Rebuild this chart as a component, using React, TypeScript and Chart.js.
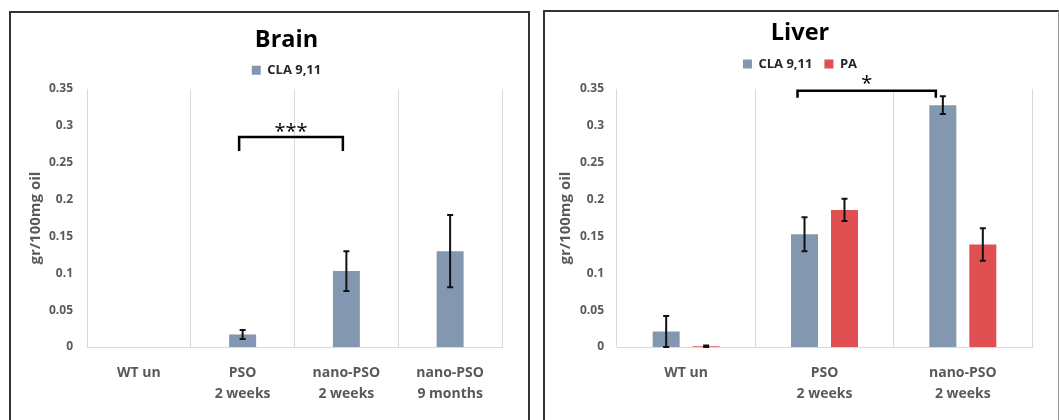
import React, { useEffect, useRef } from "react";
import { Chart, registerables } from "chart.js";

Chart.register(...registerables);

// ---------- data ----------
const brainCategories = [["WT un"], ["PSO", "2 weeks"], ["nano-PSO", "2 weeks"], ["nano-PSO", "9 months"]];
const brainCla = [0, 0.017, 0.103, 0.13];
const brainClaErr = [0, 0.006, 0.027, 0.049];

const liverCategories = [["WT un"], ["PSO", "2 weeks"], ["nano-PSO", "2 weeks"]];
const liverCla = [0.021, 0.153, 0.328];
const liverClaErr = [0.021, 0.023, 0.012];
const liverPa = [0.001, 0.186, 0.139];
const liverPaErr = [0.001, 0.015, 0.022];

const yTickValues = [0, 0.05, 0.1, 0.15, 0.2, 0.25, 0.3, 0.35];
const yTickLabels = ["0", "0.05", "0.1", "0.15", "0.2", "0.25", "0.3", "0.35"];

const seriesNames = ["CLA 9,11", "PA"];
const yTitle = "gr/100mg oil";

// ---------- styles ----------
const FONT = "'Open Sans', 'DejaVu Sans', sans-serif";
const BLUE = "#8497B0";
const RED = "#E04F52";
const GRID = "#d9d9d9";
const TICK = "#595959";

Chart.defaults.font.family = FONT;

function makeErrorBars(errs: number[][]) {
  return {
    id: "errorBars",
    afterDatasetsDraw(chart: any) {
      const ctx = chart.ctx;
      const ys = chart.scales.y;
      errs.forEach((arr, di) => {
        const meta = chart.getDatasetMeta(di);
        const data = chart.data.datasets[di].data as number[];
        meta.data.forEach((bar: any, i: number) => {
          const e = arr[i];
          if (!e) return;
          const v = data[i];
          const yT = ys.getPixelForValue(v + e);
          const yB = ys.getPixelForValue(Math.max(0, v - e));
          ctx.save();
          ctx.strokeStyle = "#111";
          ctx.lineWidth = 2;
          ctx.beginPath();
          ctx.moveTo(bar.x, yT);
          ctx.lineTo(bar.x, yB);
          ctx.moveTo(bar.x - 3, yT);
          ctx.lineTo(bar.x + 3, yT);
          ctx.moveTo(bar.x - 3, yB);
          ctx.lineTo(bar.x + 3, yB);
          ctx.stroke();
          ctx.restore();
        });
      });
    },
  };
}

function makeBracket(o: { from: number[]; to: number[]; dx: number; top: number; end: number; label: string; labelY: number }) {
  return {
    id: "bracket",
    afterDatasetsDraw(chart: any) {
      const ctx = chart.ctx;
      const ys = chart.scales.y;
      const x1 = chart.getDatasetMeta(o.from[0]).data[o.from[1]].x + o.dx;
      const x2 = chart.getDatasetMeta(o.to[0]).data[o.to[1]].x + o.dx;
      const yT = ys.getPixelForValue(o.top);
      const yE = ys.getPixelForValue(o.end);
      ctx.save();
      ctx.strokeStyle = "#000";
      ctx.lineWidth = 2.5;
      ctx.beginPath();
      ctx.moveTo(x1, yE);
      ctx.lineTo(x1, yT);
      ctx.lineTo(x2, yT);
      ctx.lineTo(x2, yE);
      ctx.stroke();
      ctx.fillStyle = "#000";
      ctx.font = `20px ${FONT}`;
      ctx.textAlign = "center";
      ctx.textBaseline = "middle";
      ctx.fillText(o.label, (x1 + x2) / 2, ys.getPixelForValue(o.labelY));
      ctx.restore();
    },
  };
}

function baseOptions(p: {
  title: string;
  titleTop: number;
  titleBottom: number;
  spacer: number;
  padLeft: number;
  padRight: number;
  yWidth: number;
  rightWidth: number;
  yTitlePad: number;
  yTickPad: number;
}) {
  return {
    responsive: false,
    animation: false,
    devicePixelRatio: 1,
    layout: { padding: { left: p.padLeft, right: p.padRight, top: 0, bottom: 0 } },
    plugins: {
      title: {
        display: true,
        text: p.title,
        color: "#000",
        font: { size: 23.5, weight: "bold", lineHeight: 1 },
        padding: { top: p.titleTop, bottom: p.titleBottom },
      },
      legend: {
        display: true,
        labels: {
          boxWidth: 9,
          boxHeight: 9,
          padding: 12,
          color: "#262626",
          font: { size: 13, weight: "bold" },
        },
      },
      subtitle: {
        display: true,
        text: " ",
        weight: 500,
        font: { size: 1, lineHeight: 1 },
        padding: { top: 0, bottom: p.spacer - 1 },
      },
      tooltip: { enabled: false },
    },
    scales: {
      x: {
        grid: { display: true, color: GRID, lineWidth: 1, drawTicks: false, offset: true },
        border: { display: true, color: GRID, width: 1 },
        ticks: {
          color: TICK,
          font: { size: 14, weight: "bold", lineHeight: 1.54 },
          padding: 15,
          maxRotation: 0,
          autoSkip: false,
        },
        afterFit: (s: any) => {
          s.height = 73;
        },
      },
      y: {
        min: 0,
        max: 0.35,
        grid: { display: false, drawTicks: false },
        border: { display: false },
        afterBuildTicks: (s: any) => {
          s.ticks = yTickValues.map((v) => ({ value: v }));
        },
        ticks: {
          color: TICK,
          font: { size: 12, weight: "bold" },
          padding: p.yTickPad,
          callback: (_v: any, i: number) => yTickLabels[i],
        },
        title: {
          display: true,
          text: yTitle,
          color: TICK,
          font: { size: 15, weight: "bold", lineHeight: 1.2 },
          padding: { top: p.yTitlePad, bottom: 0 },
        },
        afterFit: (s: any) => {
          s.width = p.yWidth;
        },
      },
      spacerRight: {
        type: "linear",
        position: "right",
        display: true,
        grid: { display: false, drawTicks: false },
        border: { display: false },
        ticks: { display: false },
        afterFit: (s: any) => {
          s.width = p.rightWidth;
        },
      },
    },
  };
}

export default function App() {
  const brainRef = useRef<HTMLCanvasElement | null>(null);
  const liverRef = useRef<HTMLCanvasElement | null>(null);

  useEffect(() => {
    const brain = new Chart(brainRef.current as HTMLCanvasElement, {
      type: "bar",
      data: {
        labels: brainCategories,
        datasets: [
          {
            label: seriesNames[0],
            data: brainCla,
            backgroundColor: BLUE,
            categoryPercentage: 0.8,
            barPercentage: 0.325,
          },
        ],
      },
      options: baseOptions({
        title: "Brain",
        titleTop: 15.25,
        titleBottom: 0,
        spacer: 2.25,
        padLeft: 34,
        padRight: 0,
        yWidth: 42,
        rightWidth: 26,
        yTitlePad: -18.5,
        yTickPad: 14,
      }) as any,
      plugins: [
        makeErrorBars([brainClaErr]),
        makeBracket({ from: [0, 1], to: [0, 2], dx: -3.5, top: 0.285, end: 0.266, label: "***", labelY: 0.2915 }),
      ],
    });

    const liver = new Chart(liverRef.current as HTMLCanvasElement, {
      type: "bar",
      data: {
        labels: liverCategories,
        datasets: [
          {
            label: seriesNames[0],
            data: liverCla,
            backgroundColor: BLUE,
            categoryPercentage: 0.578,
            barPercentage: 0.675,
          },
          {
            label: seriesNames[1],
            data: liverPa,
            backgroundColor: RED,
            categoryPercentage: 0.578,
            barPercentage: 0.675,
          },
        ],
      },
      options: baseOptions({
        title: "Liver",
        titleTop: 9.25,
        titleBottom: 0.75,
        spacer: 8.5,
        padLeft: 23,
        padRight: 26,
        yWidth: 49,
        rightWidth: 0,
        yTitlePad: -11.5,
        yTickPad: 13,
      }) as any,
      plugins: [
        makeErrorBars([liverClaErr, liverPaErr]),
        makeBracket({ from: [0, 1], to: [0, 2], dx: -7, top: 0.3477, end: 0.338, label: "*", labelY: 0.357 }),
      ],
    });

    const fonts = (document as any).fonts;
    if (fonts && fonts.ready) {
      fonts.ready.then(() => {
        try {
          brain.update();
          liver.update();
        } catch (e) {}
      });
    }

    return () => {
      brain.destroy();
      liver.destroy();
    };
  }, []);

  return (
    <div>
      <div
        style={{
          position: "absolute",
          left: 9,
          top: 11,
          width: 521,
          height: 409,
          boxSizing: "border-box",
          border: "2px solid #333",
          borderBottom: "none",
        }}
      />
      <div
        style={{
          position: "absolute",
          left: 543,
          top: 10,
          width: 516,
          height: 410,
          boxSizing: "border-box",
          borderLeft: "2px solid #333",
          borderTop: "2px solid #333",
          borderRight: "1px solid #999",
        }}
      />
      <canvas
        ref={brainRef}
        width={517}
        height={407}
        style={{ position: "absolute", left: 11, top: 13, width: 517, height: 407 }}
      />
      <canvas
        ref={liverRef}
        width={513}
        height={408}
        style={{ position: "absolute", left: 545, top: 12, width: 513, height: 408 }}
      />
    </div>
  );
}
